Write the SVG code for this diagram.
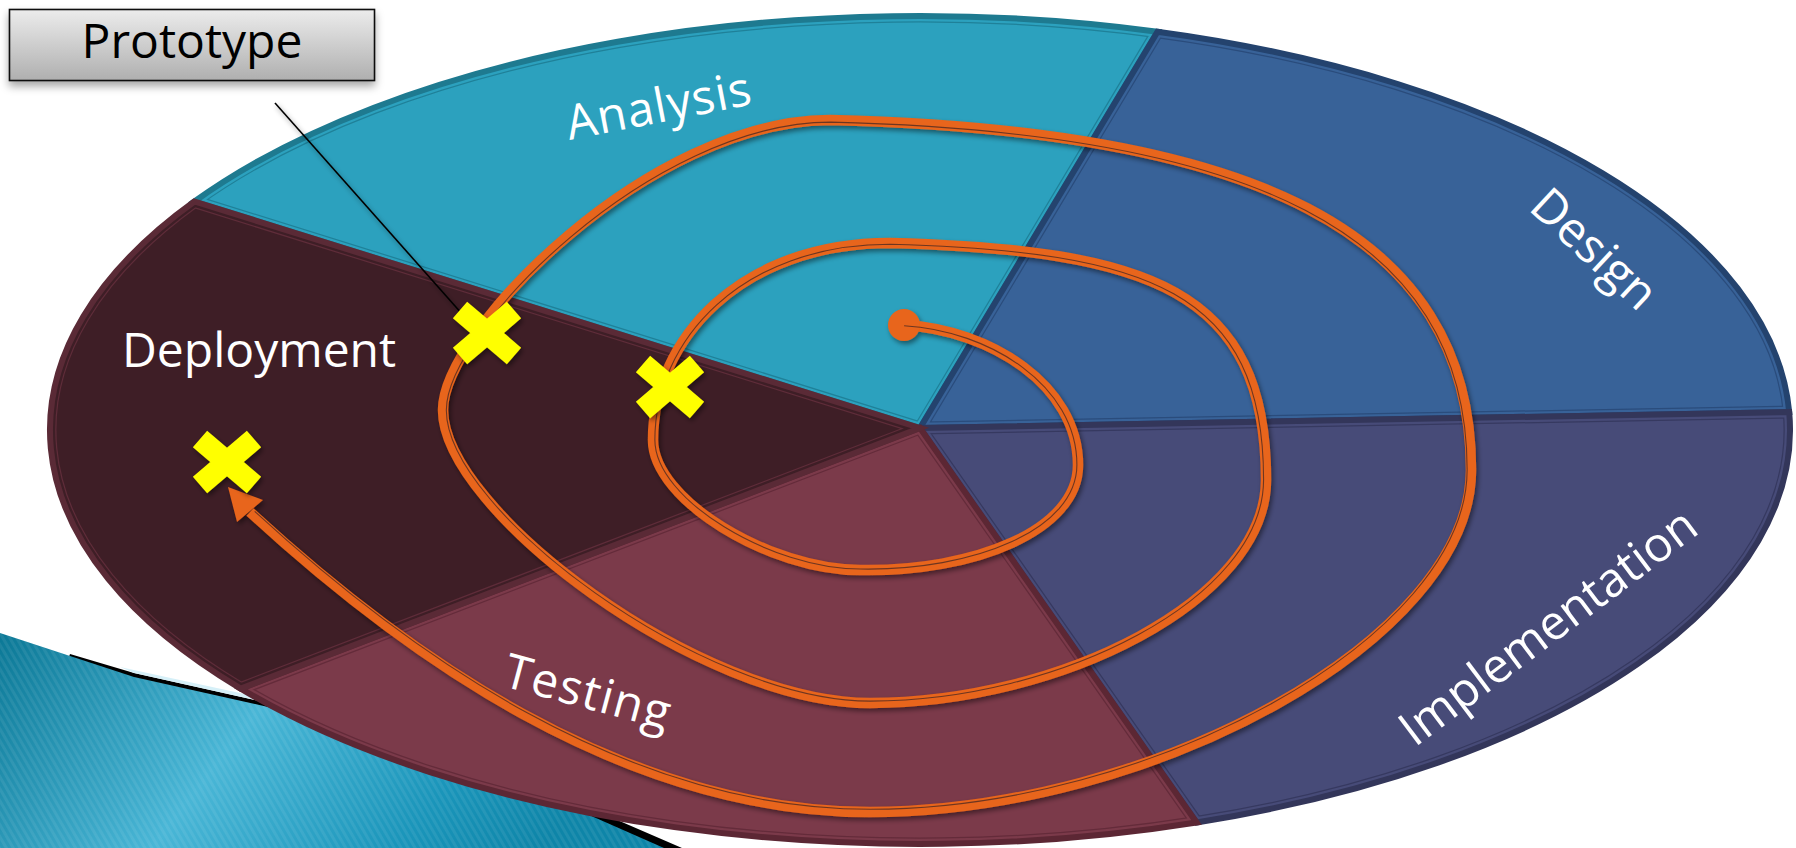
<svg xmlns="http://www.w3.org/2000/svg" xmlns:xlink="http://www.w3.org/1999/xlink" width="1796" height="848" viewBox="0 0 1796 848">
<style>
.lbl{font-family:"Open Sans","Liberation Sans",sans-serif;font-size:48px;fill:#ffffff;}
.proto{font-family:"Open Sans","Liberation Sans",sans-serif;font-size:48px;fill:#000000;}
.spiral{fill:none;stroke:#E8651A;stroke-width:10.5;stroke-linecap:butt;stroke-linejoin:round;}
.spiral-in{fill:none;stroke:#3a2222;stroke-opacity:0.7;stroke-width:1.1;}
.xmark{fill:none;stroke:#FFFF00;stroke-width:22;stroke-linecap:butt;}
</style>
<defs>
  <path id="pA" d="M920,428 L194.4,201.5 A870,414 0 0,1 1157.5,31.7 Z"/>
  <path id="pDs" d="M920,428 L1157.5,31.7 A870,414 0 0,1 1789.2,412 Z"/>
  <path id="pI" d="M920,428 L1789.2,412 A870,414 0 0,1 1196.6,822.5 Z"/>
  <path id="pT" d="M920,428 L1196.6,822.5 A870,414 0 0,1 240.7,688.6 Z"/>
  <path id="pDp" d="M920,428 L240.7,688.6 A870,414 0 0,1 194.4,201.5 Z"/>
  <clipPath id="cA"><use xlink:href="#pA"/></clipPath>
  <clipPath id="cDs"><use xlink:href="#pDs"/></clipPath>
  <clipPath id="cI"><use xlink:href="#pI"/></clipPath>
  <clipPath id="cT"><use xlink:href="#pT"/></clipPath>
  <clipPath id="cDp"><use xlink:href="#pDp"/></clipPath>
  <linearGradient id="gProto" x1="0" y1="0" x2="0" y2="1">
    <stop offset="0" stop-color="#ECECEC"/>
    <stop offset="1" stop-color="#AFAFAF"/>
  </linearGradient>
  <linearGradient id="gTeal" x1="0" y1="0" x2="1" y2="0.25">
    <stop offset="0" stop-color="#0B7896"/>
    <stop offset="0.45" stop-color="#49B6D6"/>
    <stop offset="0.8" stop-color="#1A95BA"/>
    <stop offset="1" stop-color="#0E85A8"/>
  </linearGradient>
  <pattern id="stripes" width="6" height="6" patternUnits="userSpaceOnUse" patternTransform="rotate(-30)">
    <rect width="3" height="6" fill="#ffffff" fill-opacity="0.07"/>
  </pattern>
  <filter id="sh" x="-10%" y="-10%" width="120%" height="120%">
    <feDropShadow dx="2" dy="3" stdDeviation="2.5" flood-color="#000" flood-opacity="0.45"/>
  </filter>
  <filter id="shBox" x="-10%" y="-20%" width="120%" height="160%">
    <feDropShadow dx="0" dy="5" stdDeviation="4" flood-color="#000" flood-opacity="0.35"/>
  </filter>
  <path id="spiralPath" d="M904,325 C990,330 1078,385 1078,465 C1078,530 975,572 860,570 C770,570 653,500 653,440 C653,340 740,243 890,243 C1150,250 1266,290 1266,480 C1266,600 1060,703 870,703 C700,703 443,510 443,410 C443,330 650,120 830,120 C1250,130 1471,230 1471,470 C1471,640 1150,812 870,812 C620,812 400,650 250,512"/>
</defs>

<rect width="1796" height="848" fill="#ffffff"/>

<g id="decoration">
  <path d="M70,654 L134,673 L268,703 L446,746 L682,848 L0,848 Z" fill="#000000"/>
  <path d="M120,667 L268,699 L446,742 L446,746 L268,703 L134,673 Z" fill="#D6F0F8"/>
  <path d="M0,633 L134,677 L268,707 L446,752 L664,848 L0,848 Z" fill="url(#gTeal)"/>
  <path d="M0,633 L134,677 L268,707 L446,752 L664,848 L0,848 Z" fill="url(#stripes)"/>
</g>

<g id="analysis">
  <g clip-path="url(#cA)">
    <use xlink:href="#pA" fill="#2CA1BE" stroke="#1F8199" stroke-width="13"/>
    <use xlink:href="#pA" fill="none" stroke="#2CA1BE" stroke-width="10.5"/>
  </g>
  <use xlink:href="#pA" fill="none" stroke="#1E7A90" stroke-width="6"/>
  <text class="lbl" x="662" y="122" text-anchor="middle" letter-spacing="1" transform="rotate(-11 662 122)">Analysis</text>
</g>

<g id="design">
  <g clip-path="url(#cDs)">
    <use xlink:href="#pDs" fill="#386298" stroke="#2A4C7C" stroke-width="13"/>
    <use xlink:href="#pDs" fill="none" stroke="#386298" stroke-width="10.5"/>
  </g>
  <use xlink:href="#pDs" fill="none" stroke="#24436E" stroke-width="6"/>
  <text class="lbl" x="1583" y="261" text-anchor="middle" transform="rotate(43 1583 261)">Design</text>
</g>

<g id="implementation">
  <g clip-path="url(#cI)">
    <use xlink:href="#pI" fill="#474B78" stroke="#363960" stroke-width="13"/>
    <use xlink:href="#pI" fill="none" stroke="#474B78" stroke-width="10.5"/>
  </g>
  <use xlink:href="#pI" fill="none" stroke="#33365A" stroke-width="6"/>
  <text class="lbl" x="1558" y="640" text-anchor="middle" transform="rotate(-37 1558 640)">Implementation</text>
</g>

<g id="testing">
  <g clip-path="url(#cT)">
    <use xlink:href="#pT" fill="#7B3A4A" stroke="#642B3A" stroke-width="13"/>
    <use xlink:href="#pT" fill="none" stroke="#7B3A4A" stroke-width="10.5"/>
  </g>
  <use xlink:href="#pT" fill="none" stroke="#5C2734" stroke-width="6"/>
  <text class="lbl" x="584" y="708" text-anchor="middle" letter-spacing="1.5" transform="rotate(15 584 708)">Testing</text>
</g>

<g id="deployment">
  <g clip-path="url(#cDp)">
    <use xlink:href="#pDp" fill="#3E1E26" stroke="#5E2C39" stroke-width="13"/>
    <use xlink:href="#pDp" fill="none" stroke="#3E1E26" stroke-width="10.5"/>
  </g>
  <use xlink:href="#pDp" fill="none" stroke="#5A2A36" stroke-width="6"/>
  <text class="lbl" x="122" y="367">Deployment</text>
</g>

<g id="connectors">
  <g filter="url(#sh)">
    <use xlink:href="#spiralPath" class="spiral"/>
    <polygon points="228,487 237,522 263,500" fill="#E8651A"/>
    <circle cx="904" cy="325" r="16" fill="#E8651A"/>
  </g>
  <use xlink:href="#spiralPath" class="spiral-in" transform="translate(920 430) scale(0.993) translate(-920 -430)"/>
  <line x1="275" y1="103" x2="463" y2="315" stroke="#000" stroke-width="1.6" filter="url(#sh)"/>
</g>

<g id="prototype-marks" filter="url(#sh)">
  <path class="xmark" d="M460,310 L514,356 M460,356 L514,310"/>
  <path class="xmark" d="M643,364 L697,410 M643,410 L697,364"/>
  <path class="xmark" d="M200,439 L254,485 M200,485 L254,439"/>
</g>

<g id="prototype">
  <rect x="9.5" y="9.5" width="365" height="71" fill="url(#gProto)" stroke="#111" stroke-width="1.6" filter="url(#shBox)"/>
  <text class="proto" x="192" y="58" text-anchor="middle">Prototype</text>
</g>
</svg>
